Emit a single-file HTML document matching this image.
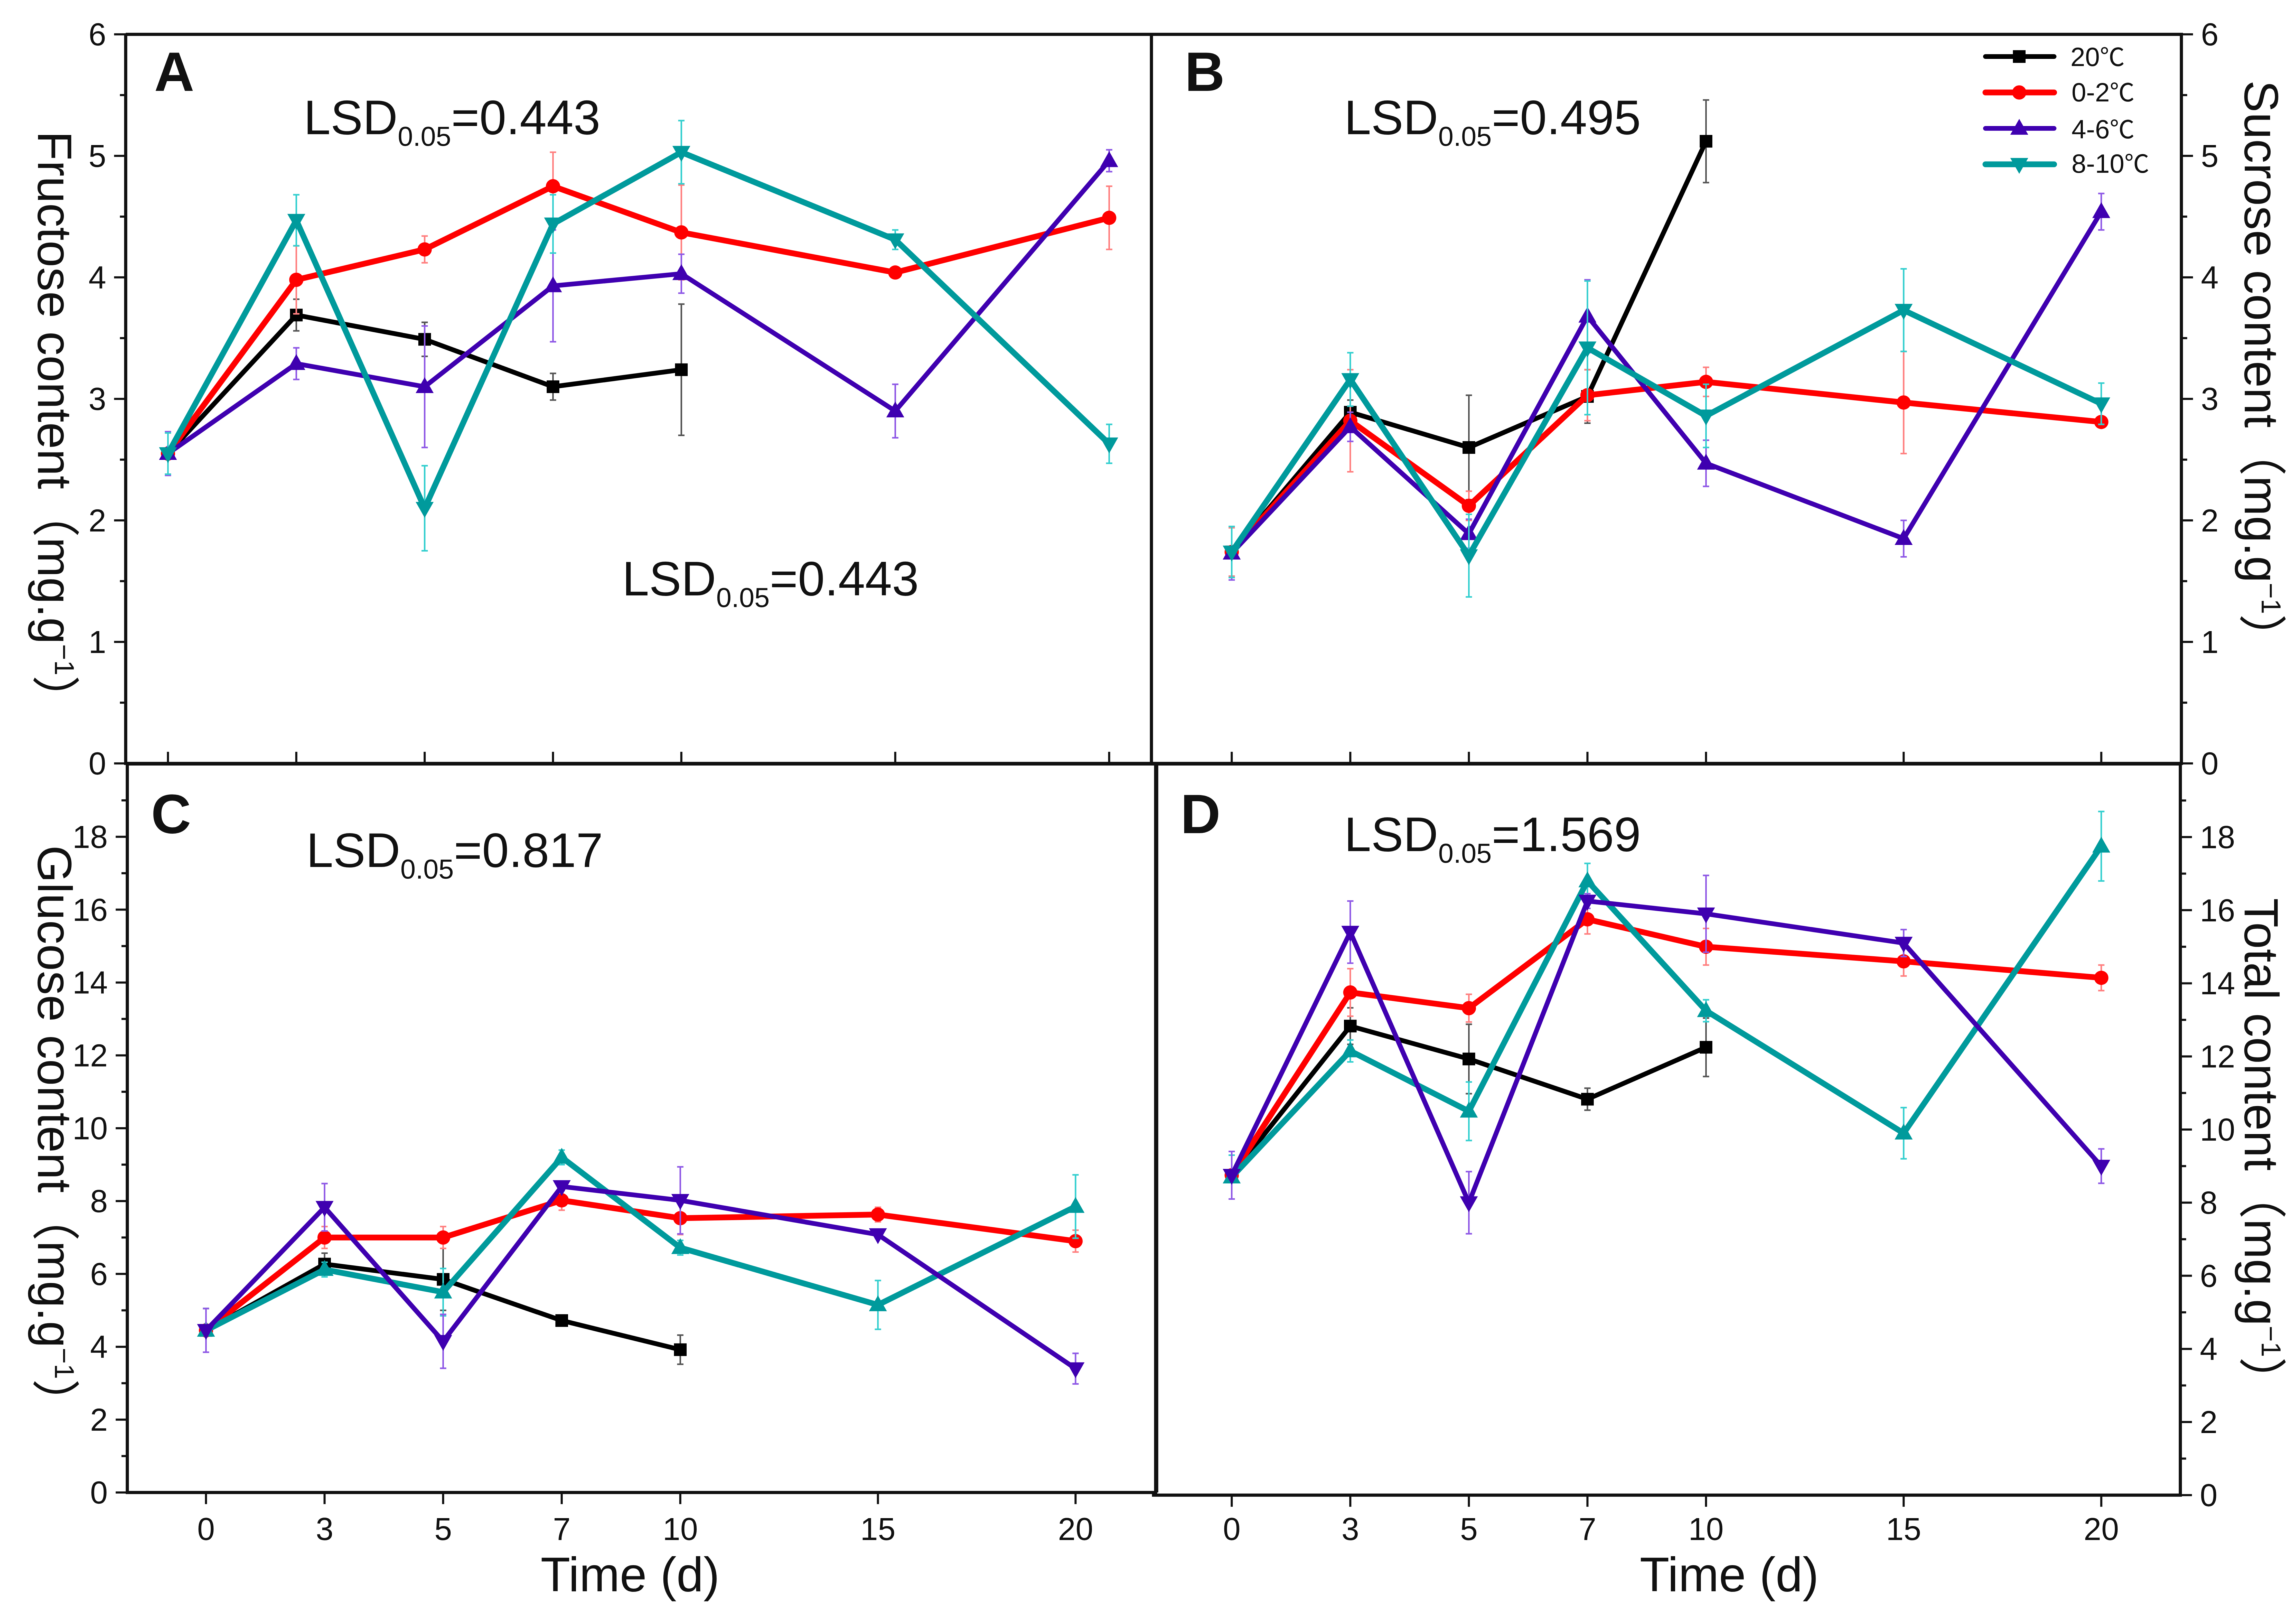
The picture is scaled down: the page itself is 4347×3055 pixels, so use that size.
<!DOCTYPE html>
<html lang="en">
<head>
<meta charset="utf-8">
<title>Sugar content over storage time</title>
<style>
html,body{margin:0;padding:0;background:#fff;}
svg{display:block;filter:blur(0.9px);}
text{font-family:"Liberation Sans","Noto Sans CJK SC",sans-serif;fill:#111;}
.cjk{font-family:"Noto Sans CJK SC","Liberation Sans",sans-serif;}
.lsd{font-size:91.5px;}
.sub{font-size:52px;}
.letter{font-size:105px;font-weight:bold;}
.ytitle{font-size:91px;}
.sup{font-size:52px;}
.xtitle{font-size:92px;text-anchor:middle;}
.legend-text{font-size:50px;}
</style>
</head>
<body>
<svg id="chart" xmlns="http://www.w3.org/2000/svg" width="4347" height="3055" viewBox="0 0 4347 3055">
  <rect x="0" y="0" width="4347" height="3055" fill="#ffffff"/>
  <g id="plots"></g>

  <text class="letter" x="292" y="172">A</text>
  <text class="letter" x="2243" y="172">B</text>
  <text class="letter" x="286" y="1577">C</text>
  <text class="letter" x="2235" y="1577">D</text>

  <text class="lsd" x="575" y="254">LSD<tspan class="sub" dy="22">0.05</tspan><tspan dy="-22">=0.443</tspan></text>
  <text class="lsd" x="1178" y="1127">LSD<tspan class="sub" dy="22">0.05</tspan><tspan dy="-22">=0.443</tspan></text>
  <text class="lsd" x="2545" y="254">LSD<tspan class="sub" dy="22">0.05</tspan><tspan dy="-22">=0.495</tspan></text>
  <text class="lsd" x="580" y="1641">LSD<tspan class="sub" dy="22">0.05</tspan><tspan dy="-22">=0.817</tspan></text>
  <text class="lsd" x="2545" y="1611">LSD<tspan class="sub" dy="22">0.05</tspan><tspan dy="-22">=1.569</tspan></text>

  <text class="ytitle" transform="translate(72,248) rotate(90)">Fructose content<tspan class="cjk">（</tspan>mg.g<tspan class="sup" dy="-32">−1</tspan><tspan class="cjk" dy="32">）</tspan></text>
  <text class="ytitle" transform="translate(4250,152) rotate(90)">Sucrose content<tspan class="cjk">（</tspan>mg.g<tspan class="sup" dy="-32">−1</tspan><tspan class="cjk" dy="32">）</tspan></text>
  <text class="ytitle" transform="translate(72,1600) rotate(90)">Glucose content<tspan class="cjk">（</tspan>mg.g<tspan class="sup" dy="-32">−1</tspan><tspan class="cjk" dy="32">）</tspan></text>
  <text class="ytitle" transform="translate(4250,1700) rotate(90)">Total content<tspan class="cjk">（</tspan>mg.g<tspan class="sup" dy="-32">−1</tspan><tspan class="cjk" dy="32">）</tspan></text>

  <text class="xtitle" x="1193" y="3012">Time (d)</text>
  <text class="xtitle" x="3274" y="3012">Time (d)</text>

  <g id="legend">
    <text class="legend-text" x="3920" y="125">20<tspan class="cjk" font-size="47">℃</tspan></text>
    <text class="legend-text" x="3922" y="192">0-2<tspan class="cjk" font-size="47">℃</tspan></text>
    <text class="legend-text" x="3922" y="262">4-6<tspan class="cjk" font-size="47">℃</tspan></text>
    <text class="legend-text" x="3922" y="327">8-10<tspan class="cjk" font-size="47">℃</tspan></text>
  </g>
</svg>

<script>
// Categories and tick labels
const dayLabels = ['0', '3', '5', '7', '10', '15', '20'];
const fiveValueTicks = [0, 1, 2, 3, 4, 5, 6];
const twentyValueTicks = [0, 2, 4, 6, 8, 10, 12, 14, 16, 18];

// Panel A: fructose
const fructose20 = [2.55, 3.69, 3.49, 3.10, 3.24];
const fructose20Err = [0.17, 0.13, 0.14, 0.11, 0.54];
const fructose02 = [2.55, 3.98, 4.23, 4.75, 4.37, 4.04, 4.49];
const fructose02Err = [0.17, 0.28, 0.11, 0.28, 0.39, 0.03, 0.26];
const fructose46 = [2.55, 3.29, 3.10, 3.93, 4.03, 2.90, 4.96];
const fructose46Err = [0.18, 0.13, 0.50, 0.46, 0.16, 0.22, 0.09];
const fructose810 = [2.55, 4.47, 2.10, 4.44, 5.03, 4.31, 2.63];
const fructose810Err = [0.17, 0.21, 0.35, 0.24, 0.26, 0.08, 0.16];

// Panel B: sucrose
const sucrose20 = [1.74, 2.89, 2.60, 3.02, 5.12];
const sucrose20Err = [0.20, 0.10, 0.43, 0.22, 0.34];
const sucrose02 = [1.74, 2.82, 2.12, 3.03, 3.14, 2.97, 2.81];
const sucrose02Err = [0.20, 0.42, 0.12, 0.21, 0.12, 0.42, 0.04];
const sucrose46 = [1.73, 2.77, 1.89, 3.68, 2.47, 1.85, 4.54];
const sucrose46Err = [0.22, 0.12, 0.12, 0.30, 0.19, 0.15, 0.15];
const sucrose810 = [1.74, 3.16, 1.71, 3.42, 2.86, 3.73, 2.96];
const sucrose810Err = [0.21, 0.22, 0.34, 0.55, 0.26, 0.34, 0.17];

// Panel C: glucose
const glucose20 = [4.45, 6.27, 5.85, 4.72, 3.92];
const glucose20Err = [0.60, 0.30, 0.85, 0.15, 0.40];
const glucose02 = [4.45, 7.00, 7.00, 8.02, 7.53, 7.63, 6.90];
const glucose02Err = [0.60, 0.30, 0.30, 0.27, 0.45, 0.20, 0.30];
const glucose46 = [4.45, 7.83, 4.15, 8.40, 8.02, 7.08, 3.40];
const glucose46Err = [0.60, 0.65, 0.74, 0.10, 0.92, 0.10, 0.42];
const glucose810 = [4.45, 6.12, 5.50, 9.20, 6.72, 5.15, 7.85];
const glucose810Err = [0.60, 0.20, 0.65, 0.20, 0.20, 0.67, 0.87];

// Panel D: total
const total20 = [8.75, 12.83, 11.93, 10.83, 12.25];
const total20Err = [0.65, 0.50, 0.95, 0.30, 0.80];
const total02 = [8.75, 13.75, 13.32, 15.75, 15.00, 14.60, 14.15];
const total02Err = [0.65, 0.65, 0.38, 0.40, 0.50, 0.40, 0.35];
const total46 = [8.75, 15.40, 8.00, 16.25, 15.90, 15.10, 9.00];
const total46Err = [0.65, 0.85, 0.85, 0.20, 1.05, 0.37, 0.47];
const total810 = [8.70, 12.15, 10.50, 16.80, 13.25, 9.90, 17.75];
const total810Err = [0.60, 0.30, 0.80, 0.48, 0.30, 0.70, 0.95];

const NS = 'http://www.w3.org/2000/svg';
const plots = document.getElementById('plots');
const legend = document.getElementById('legend');

const styleBlack = { color: '#000000', err: '#555555', width: 9, key: '20c' };
const styleRed = { color: '#ff0000', err: '#ff8080', width: 11, key: '0-2c' };
const stylePurple = { color: '#3f00b0', err: '#8f5ae6', width: 9, key: '4-6c' };
const styleTeal = { color: '#009a9c', err: '#35cfcf', width: 11, key: '8-10c' };

function add(parent, tag, attrs) {
  const el = document.createElementNS(NS, tag);
  for (const k in attrs) el.setAttribute(k, attrs[k]);
  parent.appendChild(el);
  return el;
}

// The time axis is uneven: the first four gaps share one width, the last two are 5/3 of it.
function slot(i) {
  return i <= 4 ? i : 4 + (i - 4) * 5 / 3;
}

function drawMarker(parent, shape, cx, cy, color) {
  let el;
  if (shape === 'square') {
    el = add(parent, 'rect', { x: cx - 12, y: cy - 12, width: 24, height: 24, fill: color });
  } else if (shape === 'circle') {
    el = add(parent, 'circle', { cx: cx, cy: cy, r: 13.5, fill: color });
  } else if (shape === 'up') {
    el = add(parent, 'polygon', { points: (cx) + ',' + (cy - 18) + ' ' + (cx + 17) + ',' + (cy + 12) + ' ' + (cx - 17) + ',' + (cy + 12), fill: color });
  } else {
    el = add(parent, 'polygon', { points: (cx) + ',' + (cy + 18) + ' ' + (cx + 17) + ',' + (cy - 12) + ' ' + (cx - 17) + ',' + (cy - 12), fill: color });
  }
  
  
}

function drawPanel(p) {
  const g = add(plots, 'g', {});
  
  

  const xPos = i => p.x0 + slot(i) * p.unit;
  const yPos = v => p.bottom - v * (p.bottom - p.top) / p.max;
  const ink = '#111111';

  // Frame
  const frame = add(g, 'path', { d: p.frame, fill: 'none', stroke: ink, 'stroke-width': 6 });
  
  

  // X ticks and labels
  dayLabels.forEach((lab, i) => {
    const x = xPos(i);
    const tick = add(g, 'line', { x1: x, x2: x, y1: p.bottom, y2: p.bottom + p.xTickDir * 22, stroke: ink, 'stroke-width': 4 });
    
    
    if (p.showXLabels) {
      const t = add(g, 'text', { x: x, y: 2915, 'text-anchor': 'middle', 'font-size': 60 });
      t.textContent = lab;
      
      
    }
  });

  // Y ticks and labels
  const dir = p.side === 'left' ? -1 : 1;
  const axisX = p.side === 'left' ? p.left : p.right;
  p.ticks.forEach(v => {
    const y = yPos(v);
    const tick = add(g, 'line', { x1: axisX, x2: axisX + dir * 22, y1: y, y2: y, stroke: ink, 'stroke-width': 4 });
    
    
    const t = add(g, 'text', { x: axisX + dir * 37, y: y + 21, 'text-anchor': p.side === 'left' ? 'end' : 'start', 'font-size': 60 });
    t.textContent = String(v);
    
    
  });
  for (let v = p.minorStep; v < p.max; v += p.minorStep * 2) {
    const y = yPos(v);
    const minor = add(g, 'line', { x1: axisX, x2: axisX + dir * 11, y1: y, y2: y, stroke: ink, 'stroke-width': 4 });
    
    
  }

  // Series
  p.series.forEach(s => {
    const sg = add(g, 'g', {});
    
    

    s.values.forEach((v, i) => {
      const x = xPos(i);
      const hi = yPos(v + s.errors[i]);
      const lo = yPos(v - s.errors[i]);
      const bar = add(sg, 'path', {
        d: 'M' + x + ' ' + hi + 'V' + lo + 'M' + (x - 6) + ' ' + hi + 'H' + (x + 6) + 'M' + (x - 6) + ' ' + lo + 'H' + (x + 6),
        fill: 'none', stroke: s.style.err, 'stroke-width': 3
      });
      
      
    });

    const pts = s.values.map((v, i) => xPos(i) + ',' + yPos(v)).join(' ');
    const line = add(sg, 'polyline', { points: pts, fill: 'none', stroke: s.style.color, 'stroke-width': s.style.width, 'stroke-linejoin': 'round' });
    
    

    s.values.forEach((v, i) => drawMarker(sg, s.shape, xPos(i), yPos(v), s.style.color));
  });
}

const panels = [
  {
    id: 'a', x0: 318, unit: 243, top: 65, bottom: 1445, max: 6, left: 238, right: 2180,
    frame: 'M238 65H2180M238 65V1445H2180V65', side: 'left', ticks: fiveValueTicks, minorStep: 0.5,
    xTickDir: -1, showXLabels: false,
    series: [
      { style: styleBlack, shape: 'square', values: fructose20, errors: fructose20Err },
      { style: styleRed, shape: 'circle', values: fructose02, errors: fructose02Err },
      { style: stylePurple, shape: 'up', values: fructose46, errors: fructose46Err },
      { style: styleTeal, shape: 'down', values: fructose810, errors: fructose810Err }
    ]
  },
  {
    id: 'b', x0: 2332, unit: 224.5, top: 65, bottom: 1445, max: 6, left: 2180, right: 4130,
    frame: 'M2180 65H4130V1445H2180', side: 'right', ticks: fiveValueTicks, minorStep: 0.5,
    xTickDir: -1, showXLabels: false,
    series: [
      { style: styleBlack, shape: 'square', values: sucrose20, errors: sucrose20Err },
      { style: styleRed, shape: 'circle', values: sucrose02, errors: sucrose02Err },
      { style: stylePurple, shape: 'up', values: sucrose46, errors: sucrose46Err },
      { style: styleTeal, shape: 'down', values: sucrose810, errors: sucrose810Err }
    ]
  },
  {
    id: 'c', x0: 390, unit: 224.5, top: 1446, bottom: 2825, max: 20, left: 241, right: 2190,
    frame: 'M241 1446V2825H2190M241 1446H2190V2825', side: 'left', ticks: twentyValueTicks, minorStep: 1,
    xTickDir: 1, showXLabels: true,
    series: [
      { style: styleBlack, shape: 'square', values: glucose20, errors: glucose20Err },
      { style: styleRed, shape: 'circle', values: glucose02, errors: glucose02Err },
      { style: styleTeal, shape: 'up', values: glucose810, errors: glucose810Err },
      { style: stylePurple, shape: 'down', values: glucose46, errors: glucose46Err }
    ]
  },
  {
    id: 'd', x0: 2332, unit: 224.5, top: 1446, bottom: 2830, max: 20, left: 2188, right: 4128,
    frame: 'M2188 1446V2830M2181 2830H4128V1446M2188 1446H4128', side: 'right', ticks: twentyValueTicks, minorStep: 1,
    xTickDir: 1, showXLabels: true,
    series: [
      { style: styleBlack, shape: 'square', values: total20, errors: total20Err },
      { style: styleRed, shape: 'circle', values: total02, errors: total02Err },
      { style: styleTeal, shape: 'up', values: total810, errors: total810Err },
      { style: stylePurple, shape: 'down', values: total46, errors: total46Err }
    ]
  }
];
panels.forEach(drawPanel);

// Legend keys
const legendKeys = [
  { style: styleBlack, shape: 'square', y: 107 },
  { style: styleRed, shape: 'circle', y: 175 },
  { style: stylePurple, shape: 'up', y: 243 },
  { style: styleTeal, shape: 'down', y: 311 }
];
legendKeys.forEach(k => {
  const keyLine = add(legend, 'line', { x1: 3759, x2: 3889, y1: k.y, y2: k.y, stroke: k.style.color, 'stroke-width': k.style.width, 'stroke-linecap': 'round' });
  
  
  drawMarker(legend, k.shape, 3823, k.y, k.style.color);
});
</script>
</body>
</html>
